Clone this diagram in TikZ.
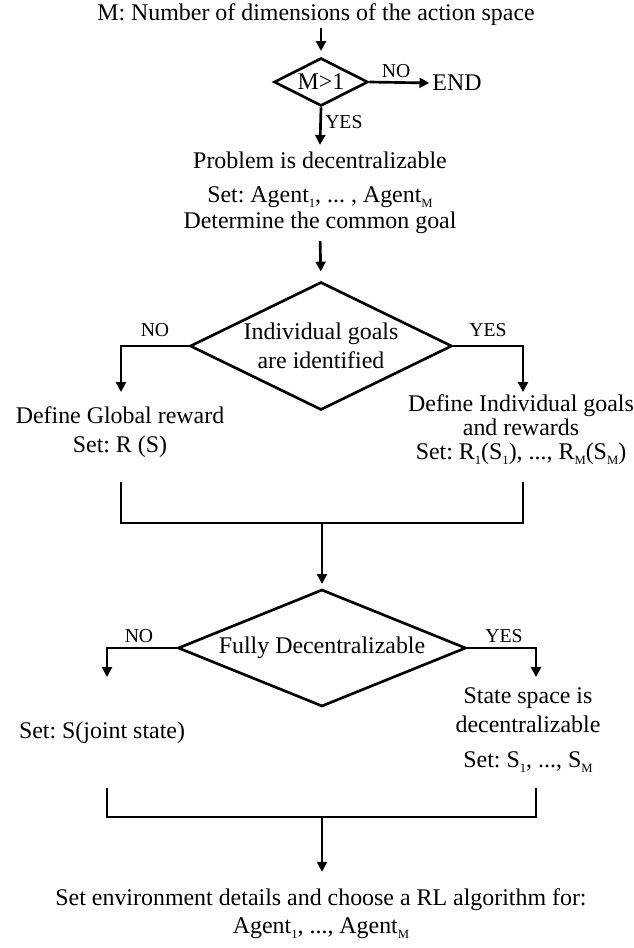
\documentclass[tikz,border=0pt]{standalone}
\usepackage{fontspec}
\setmainfont{Liberation Serif}
\usetikzlibrary{arrows.meta,shapes.geometric}
\frenchspacing

\newcommand{\lowidx}[1]{\raisebox{-0.45ex}{\fontsize{9}{9}\selectfont #1}}

\begin{document}
\begin{tikzpicture}[x=0.025cm,y=-0.025cm]
\useasboundingbox (0,0) rectangle (633,948);

\begin{scope}[every node/.style={align=center,inner sep=1pt,font=\fontsize{17}{20}\selectfont}]
    \node (dims) at (316,15) {M: Number of dimensions of the action space};
    \node (finish) at (457,83) {END};
    \node (decentral) at (320,193) {Problem is decentralizable\\[4pt]Set: Agent\lowidx{1}, ... , Agent\lowidx{M}\\[-1.5pt]Determine the common goal};
    \node (globrew) at (120,432) {Define Global reward\\[1pt]Set: R (S)};
    \node (indivrew) at (521,430) {Define Individual goals\\[-3pt]and rewards\\[-3pt]Set: R\lowidx{1}(S\lowidx{1}), ..., R\lowidx{M}(S\lowidx{M})};
    \node (jointst) at (102,733) {Set: S(joint state)};
    \node (splitst) at (528,730) {State space is\\[0.5pt]decentralizable\\[5pt]Set: S\lowidx{1}, ..., S\lowidx{M}};
    \node (envset) at (321,914) {Set environment details and choose a RL algorithm for:\\Agent\lowidx{1}, ..., Agent\lowidx{M}};
\end{scope}

\begin{scope}[every node/.style={diamond,draw,line width=1.9pt,inner sep=0pt,align=center,font=\fontsize{17}{20}\selectfont}]
    \node[aspect=1.96,minimum width=2.35cm,minimum height=1.2cm] (dimcheck) at (321,82) {M>1};
    \node[aspect=2.05,minimum width=6.55cm,minimum height=3.2cm] (goalcheck) at (321,346) {Individual goals\\[1pt]are identified};
    \node[aspect=2.46,minimum width=7.2cm,minimum height=2.925cm] (fullcheck) at (322,648) {Fully Decentralizable};
\end{scope}

\begin{scope}[every node/.style={inner sep=0pt,font=\fontsize{14}{16}\selectfont}]
    \node (no1) at (396,71) {NO};
    \node[anchor=west] (yes1) at (325,122) {YES};
    \node (no2) at (155,330) {NO};
    \node (yes2) at (488,330) {YES};
    \node (no3) at (139,636) {NO};
    \node (yes3) at (504,636) {YES};
\end{scope}

\coordinate (gtip) at (121,392);
\coordinate (itip) at (523,392);
\coordinate (gtail) at (121,482);
\coordinate (itail) at (523,482);
\coordinate (join1) at (322,523);
\coordinate (jtip) at (107,677);
\coordinate (stip) at (536,677);
\coordinate (jtail) at (107,788);
\coordinate (stail) at (536,788);
\coordinate (join2) at (322,817);

\begin{scope}[>={Triangle[length=7pt,width=7pt]},
              every path/.style={line width=1.9pt}]
    \draw[->,shorten >=4pt] (dimcheck.north |- dims.south) -- (dimcheck.north);
    \draw[->,shorten >=1pt] (dimcheck.east) -- (finish.west);
    \draw[->] (dimcheck.south) -- ([yshift=4pt]decentral.north);
    \draw[->,shorten <=4pt,shorten >=6.5pt] (decentral.south) -- (goalcheck.north);
    \draw[->] (goalcheck.west) -| (gtip);
    \draw[->] (goalcheck.east) -| (itip);
    \draw (gtail) |- (join1) -| (itail);
    \draw[->,shorten >=3pt] (join1) -- (fullcheck.north);
    \draw[->] (fullcheck.west) -| (jtip);
    \draw[->] (fullcheck.east) -| (stip);
    \draw (jtail) |- (join2) -| (stail);
    \draw[->] (join2) -- ([yshift=11pt]envset.north -| join2);
\end{scope}
\end{tikzpicture}
\end{document}
